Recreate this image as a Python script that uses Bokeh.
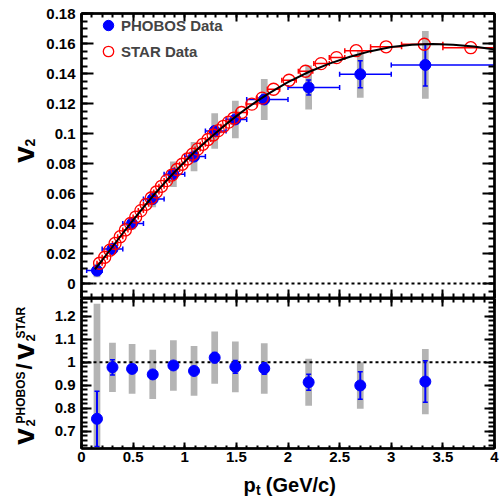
import numpy as np
from bokeh.plotting import figure
from bokeh.models import (ColumnDataSource, Whisker, TeeHead, Span, Legend,
                          LegendItem, LinearAxis, Range1d, SingleIntervalTicker,
                          CustomJSTickFormatter, CustomLabelingPolicy)
from bokeh.layouts import column, row
from bokeh.core.properties import value
from bokeh.embed import file_html
from bokeh.resources import INLINE

# ---------------- data ----------------
phobos_pt = [0.15, 0.30, 0.49, 0.69, 0.89, 1.09, 1.29, 1.49, 1.77, 2.20, 2.70, 3.33]
phobos_pt_lo = [0.05, 0.2, 0.4, 0.6, 0.8, 1.0, 1.2, 1.4, 1.6, 2.0, 2.5, 3.0]
phobos_pt_hi = [0.2, 0.4, 0.6, 0.8, 1.0, 1.2, 1.4, 1.6, 2.0, 2.5, 3.0, 4.0]
phobos_v2 = [0.0086, 0.0230, 0.0400, 0.0563, 0.0729, 0.0846, 0.1017, 0.1094, 0.1227, 0.1307, 0.1395, 0.1457]
phobos_v2_stat = [0.0010, 0.0010, 0.0010, 0.0012, 0.0012, 0.0015, 0.0018, 0.0022, 0.0030, 0.0050, 0.0090, 0.0140]
phobos_v2_sys = [0.0045, 0.0035, 0.0040, 0.0055, 0.0085, 0.0097, 0.0118, 0.0125, 0.0137, 0.0147, 0.0157, 0.0226]

ratio = [0.754, 0.978, 0.971, 0.947, 0.986, 0.962, 1.020, 0.980, 0.973, 0.913, 0.899, 0.916]
ratio_stat = [0.120, 0.033, 0.018, 0.012, 0.012, 0.014, 0.022, 0.028, 0.025, 0.035, 0.060, 0.090]
ratio_sys = [0.50, 0.107, 0.108, 0.107, 0.110, 0.108, 0.114, 0.110, 0.110, 0.102, 0.101, 0.142]

star_pt = [0.175, 0.225, 0.275, 0.325, 0.375, 0.425, 0.475, 0.525, 0.575, 0.625,
           0.675, 0.725, 0.775, 0.825, 0.875, 0.925, 0.975, 1.025, 1.075, 1.125,
           1.175, 1.225, 1.275, 1.325, 1.375, 1.425, 1.475, 1.55, 1.65, 1.75,
           1.86, 2.01, 2.17, 2.32, 2.47, 2.66, 2.95, 3.32, 3.77]
star_v2 = [0.0135, 0.0175, 0.0222, 0.0267, 0.0312, 0.0357, 0.0400, 0.0443, 0.0486, 0.0528,
           0.0570, 0.0610, 0.0648, 0.0686, 0.0723, 0.0760, 0.0795, 0.0830, 0.0862, 0.0896,
           0.0928, 0.0960, 0.0990, 0.1019, 0.1048, 0.1076, 0.1103, 0.1140, 0.1196, 0.1236,
           0.1295, 0.1355, 0.1415, 0.1466, 0.1506, 0.1552, 0.1578, 0.1595, 0.1572]
star_pt_lo = [0.15, 0.2, 0.25, 0.3, 0.35, 0.4, 0.45, 0.5, 0.55, 0.6,
              0.65, 0.7, 0.75, 0.8, 0.85, 0.9, 0.95, 1.0, 1.05, 1.1,
              1.15, 1.2, 1.25, 1.3, 1.35, 1.4, 1.45, 1.5, 1.6, 1.7,
              1.8, 1.94, 2.1, 2.25, 2.4, 2.55, 2.8, 3.1, 3.5]
star_pt_hi = [0.2, 0.25, 0.3, 0.35, 0.4, 0.45, 0.5, 0.55, 0.6, 0.65,
              0.7, 0.75, 0.8, 0.85, 0.9, 0.95, 1.0, 1.05, 1.1, 1.15,
              1.2, 1.25, 1.3, 1.35, 1.4, 1.45, 1.5, 1.6, 1.7, 1.8,
              1.92, 2.08, 2.24, 2.4, 2.55, 2.8, 3.1, 3.5, 4.0]

fit_pt = [0.13, 0.2, 0.3, 0.4, 0.5, 0.6, 0.7, 0.8, 0.9, 1.0, 1.1, 1.2, 1.3, 1.4, 1.5,
          1.6, 1.7, 1.8, 1.9, 2.0, 2.2, 2.4, 2.6, 2.8, 3.0, 3.2, 3.4, 3.6, 3.8, 4.0]
fit_v2 = [0.0095, 0.0155, 0.0245, 0.0335, 0.0422, 0.0508, 0.0590, 0.0668, 0.0742, 0.0812,
          0.0880, 0.0944, 0.1004, 0.1062, 0.1116, 0.1168, 0.1216, 0.1261, 0.1303, 0.1343,
          0.1410, 0.1466, 0.1512, 0.1549, 0.1576, 0.1591, 0.1596, 0.1592, 0.1580, 0.1560]

# ---------------- style / layout ----------------
FONT = "Liberation Sans"
BLUE = "#0000ff"
RED = "#ff0000"
GRAY = "#b4b4b4"
TOTAL_W, TOTAL_H = 503, 497
LEFT_W = 42                 # strip holding the rotated y titles
MAIN_W = TOTAL_W - LEFT_W
BORDER_L = 81 - LEFT_W
BORDER_R = 9
TOP_B = 13
TOP_FRAME = 285
BOT_FRAME = 150
BOT_B = 22
H1 = TOP_B + TOP_FRAME
H2 = BOT_FRAME + BOT_B
H3 = TOTAL_H - H1 - H2

fmt = CustomJSTickFormatter(code="return parseFloat(tick.toFixed(4)).toString();")


def style_axis(ax, ticker, maj_in, min_in, show_labels, standoff=6):
    ax.ticker = ticker
    ax.formatter = fmt
    ax.axis_line_color = "black"
    ax.axis_line_width = 2.5
    ax.major_tick_line_color = "black"
    ax.major_tick_line_width = 2
    ax.minor_tick_line_color = "black"
    ax.minor_tick_line_width = 2
    ax.major_tick_in = maj_in
    ax.major_tick_out = 0
    ax.minor_tick_in = min_in
    ax.minor_tick_out = 0
    if show_labels:
        ax.major_label_text_font = FONT
        ax.major_label_text_font_style = "bold"
        ax.major_label_text_font_size = "15px"
        ax.major_label_text_color = "black"
        ax.major_label_standoff = standoff
    else:
        # mirrored axis: ticks only, no tick labels at all
        ax.major_label_text_font_size = "0px"
        ax.major_label_standoff = 0
        ax.major_label_policy = CustomLabelingPolicy(code="return [];")


def bare(width, height, xr, yr, **kw):
    f = figure(width=width, height=height, x_range=xr, y_range=yr,
               output_backend="svg", toolbar_location=None,
               x_axis_location=None, y_axis_location=None, **kw)
    f.grid.visible = False
    f.outline_line_color = None
    f.background_fill_color = "white"
    f.border_fill_color = "white"
    return f


def txt(f, x, y, s, size, angle=0.0, align="left"):
    f.text(x=[x], y=[y], text=[s], angle=angle, text_font=value(FONT),
           text_font_style="bold", text_font_size=f"{size}px", text_color="black",
           text_align=align, text_baseline="middle")


def tee(color):
    return TeeHead(size=5, line_color=color, line_width=1.5)


# ================= top panel =================
p1 = figure(width=MAIN_W, height=H1, x_range=Range1d(0, 4), y_range=Range1d(-0.01, 0.18),
            output_backend="svg", toolbar_location=None,
            min_border_left=BORDER_L, min_border_right=BORDER_R,
            min_border_top=TOP_B, min_border_bottom=0,
            x_axis_location=None, y_axis_location=None)
p1.grid.visible = False
p1.outline_line_color = "black"
p1.outline_line_width = 2
p1.border_fill_color = "white"

yt = dict(interval=0.02, num_minor_ticks=4)
xt = dict(interval=0.5, num_minor_ticks=5)
ax = LinearAxis(); style_axis(ax, SingleIntervalTicker(**yt), 12, 6, True); p1.add_layout(ax, "left")
ax = LinearAxis(); style_axis(ax, SingleIntervalTicker(**yt), 12, 6, False); p1.add_layout(ax, "right")
ax = LinearAxis(); style_axis(ax, SingleIntervalTicker(**xt), 9, 5, False); p1.add_layout(ax, "below")
ax = LinearAxis(); style_axis(ax, SingleIntervalTicker(**xt), 8, 4, False); p1.add_layout(ax, "above")

ph = ColumnDataSource(dict(
    pt=phobos_pt, lo=phobos_pt_lo, hi=phobos_pt_hi, v2=phobos_v2,
    slo=np.array(phobos_v2) - np.array(phobos_v2_stat),
    shi=np.array(phobos_v2) + np.array(phobos_v2_stat),
    ylo=np.array(phobos_v2) - np.array(phobos_v2_sys),
    yhi=np.array(phobos_v2) + np.array(phobos_v2_sys)))
st = ColumnDataSource(dict(pt=star_pt, v2=star_v2, lo=star_pt_lo, hi=star_pt_hi))
fit = ColumnDataSource(dict(pt=fit_pt, v2=fit_v2))

p1.vbar(x="pt", width=0.065, bottom="ylo", top="yhi", source=ph, fill_color=GRAY,
        line_color=None, level="image")
p1.add_layout(Span(location=0, dimension="width", line_color="black", line_width=2,
                   line_dash="3 3", level="underlay"))
p1.add_layout(Whisker(source=ph, base="v2", lower="lo", upper="hi", dimension="width",
                      line_color=BLUE, line_width=1.5, upper_head=tee(BLUE),
                      lower_head=tee(BLUE), level="underlay"))
p1.add_layout(Whisker(source=ph, base="pt", lower="slo", upper="shi", dimension="height",
                      line_color=BLUE, line_width=2, upper_head=tee(BLUE),
                      lower_head=tee(BLUE), level="underlay"))
p1.add_layout(Whisker(source=st, base="v2", lower="lo", upper="hi", dimension="width",
                      line_color=RED, line_width=1.5, upper_head=tee(RED),
                      lower_head=tee(RED), level="underlay"))

r_ph = p1.scatter("pt", "v2", source=ph, size=11, marker="circle", fill_color=BLUE,
                  line_color=BLUE)
r_st = p1.scatter("pt", "v2", source=st, size=12, marker="circle", fill_alpha=0,
                  line_color=RED, line_width=1.3)
p1.line("pt", "v2", source=fit, line_color="black", line_width=2)

legend = Legend(items=[LegendItem(label="PHOBOS Data", renderers=[r_ph]),
                       LegendItem(label="STAR Data", renderers=[r_st])],
                location=(14, TOP_FRAME - 6 - 45), padding=0, margin=0, spacing=-7,
                glyph_width=26, glyph_height=26, label_height=26, label_standoff=0,
                label_text_font=FONT, label_text_font_style="bold",
                label_text_font_size="15px", border_line_color=None,
                background_fill_alpha=0)
p1.add_layout(legend)

# ================= bottom panel =================
p2 = figure(width=MAIN_W, height=H2, x_range=p1.x_range, y_range=Range1d(0.625, 1.277),
            output_backend="svg", toolbar_location=None,
            min_border_left=BORDER_L, min_border_right=BORDER_R,
            min_border_top=0, min_border_bottom=BOT_B,
            x_axis_location=None, y_axis_location=None)
p2.grid.visible = False
p2.outline_line_color = "black"
p2.outline_line_width = 2
p2.border_fill_color = "white"

rt = dict(interval=0.1, num_minor_ticks=5)
ax = LinearAxis(); style_axis(ax, SingleIntervalTicker(**rt), 10, 6, True); p2.add_layout(ax, "left")
ax = LinearAxis(); style_axis(ax, SingleIntervalTicker(**rt), 10, 6, False); p2.add_layout(ax, "right")
ax = LinearAxis(); style_axis(ax, SingleIntervalTicker(**xt), 6, 3, True, standoff=3); p2.add_layout(ax, "below")
ax = LinearAxis(); style_axis(ax, SingleIntervalTicker(**xt), 8, 4, False); p2.add_layout(ax, "above")

rs = ColumnDataSource(dict(
    pt=phobos_pt, r=ratio,
    slo=np.array(ratio) - np.array(ratio_stat),
    shi=np.array(ratio) + np.array(ratio_stat),
    ylo=np.array(ratio) - np.array(ratio_sys),
    yhi=np.array(ratio) + np.array(ratio_sys)))

p2.vbar(x="pt", width=0.065, bottom="ylo", top="yhi", source=rs, fill_color=GRAY,
        line_color=None, level="image")
p2.add_layout(Span(location=1, dimension="width", line_color="black", line_width=2,
                   line_dash="3 3", level="underlay"))
p2.add_layout(Whisker(source=rs, base="pt", lower="slo", upper="shi", dimension="height",
                      line_color=BLUE, line_width=2, upper_head=tee(BLUE),
                      lower_head=tee(BLUE), level="underlay"))
p2.scatter("pt", "r", source=rs, size=11, marker="circle", fill_color=BLUE, line_color=BLUE)

# ================= x title strip (shares the x scale of the panels) =================
p3 = bare(MAIN_W, H3, p1.x_range, Range1d(0, H3),
          min_border_left=BORDER_L, min_border_right=BORDER_R,
          min_border_top=0, min_border_bottom=0)
txt(p3, 1.569, 13, "p", 20)
txt(p3, 1.690, 8, "t", 14)
txt(p3, 1.785, 13, "(GeV/c)", 20)

# ================= y title strip (rotated) =================
pl = bare(LEFT_W, TOTAL_H, Range1d(0, LEFT_W), Range1d(0, TOTAL_H), min_border=0)
A = np.pi / 2
# top panel title: v_2
txt(pl, 23, TOTAL_H - 154, "v", 30, A, "center")
txt(pl, 29, TOTAL_H - 146, "2", 14, A, "left")
# ratio title: v_2^PHOBOS / v_2^STAR
txt(pl, 23, TOTAL_H - 436, "v", 30, A, "center")
txt(pl, 30, TOTAL_H - 426, "2", 13, A, "left")
txt(pl, 20, TOTAL_H - 423, "PHOBOS", 12, A, "left")
txt(pl, 24, TOTAL_H - 366, "/", 22, A, "center")
txt(pl, 23, TOTAL_H - 351, "v", 30, A, "center")
txt(pl, 30, TOTAL_H - 341, "2", 13, A, "left")
txt(pl, 20, TOTAL_H - 338, "STAR", 12, A, "left")

layout = row(pl, column(p1, p2, p3, spacing=0), spacing=0)
open("out.html", "w").write(file_html(layout, INLINE))
